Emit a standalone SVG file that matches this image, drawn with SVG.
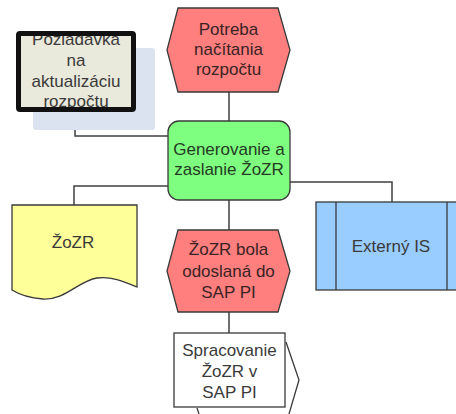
<svg xmlns="http://www.w3.org/2000/svg" width="456" height="414" viewBox="0 0 456 414">
<defs>
<style>
.t{font-family:"Liberation Sans",Arial,sans-serif;font-size:17px;fill:#3a3a3a;text-anchor:middle}
.c{fill:none;stroke:#404040;stroke-width:1.5}
.s{stroke:#3a3a3a;stroke-width:1.3}
</style>
</defs>
<rect width="456" height="414" fill="#ffffff"/>
<g id="connectors">
<polyline class="c" points="75,110 75,136 170,136"/>
<polyline class="c" points="229,92 229,122"/>
<polyline class="c" points="168,186 74,186 74,206"/>
<polyline class="c" points="290,182 392,182 392,203"/>
<polyline class="c" points="229,199 229,231"/>
<polyline class="c" points="229,311 229,334"/>
</g>
<g id="poziadavka">
<rect x="33" y="48" width="122" height="82" rx="3" fill="#dbe3f1"/>
<rect x="18.5" y="33.5" width="115" height="76" fill="#e9e9dc"/>
<text class="t" x="76" y="45">Poziadavka</text>
<text class="t" x="76" y="65.5">na</text>
<text class="t" x="76" y="86.5">aktualizáciu</text>
<text class="t" x="76" y="107">rozpočtu</text>
<rect x="18.5" y="33.5" width="115" height="76" rx="1.5" fill="none" stroke="#111" stroke-width="5"/>
</g>
<g id="potreba">
<polygon class="s" points="178,8 278,8 290,50 278,92 178,92 167,50" fill="#ff7f7f"/>
<text class="t" x="228.5" y="35" fill="#3a2323" style="fill:#3a2323">Potreba</text>
<text class="t" x="228.5" y="55" style="fill:#3a2323">načítania</text>
<text class="t" x="228.5" y="75" style="fill:#3a2323">rozpočtu</text>
</g>
<g id="generovanie">
<rect class="s" x="168" y="121" width="122" height="79" rx="11" fill="#7fff7f"/>
<text class="t" x="229" y="155" style="fill:#233a23">Generovanie a</text>
<text class="t" x="229" y="175" style="fill:#233a23">zaslanie ŽoZR</text>
</g>
<g id="zozr-doc">
<path class="s" d="M12,205 H137 V287 C125,282 112,276 97,278 C78,281 66,300 43,299 C30,298 20,295 12,290 Z" fill="#ffff99"/>
<text class="t" x="73" y="248">ŽoZR</text>
</g>
<g id="externy-is">
<rect class="s" x="316" y="202" width="150" height="88" fill="#99ccff"/>
<line class="s" x1="336" y1="202" x2="336" y2="290"/>
<line class="s" x1="447" y1="202" x2="447" y2="290"/>
<text class="t" x="391" y="252">Externý IS</text>
</g>
<g id="zozr-bola">
<polygon class="s" points="178,230 278,230 290,271 278,312 178,312 167,271" fill="#ff7f7f"/>
<text class="t" x="228.5" y="255" style="fill:#3a2323">ŽoZR bola</text>
<text class="t" x="228.5" y="277" style="fill:#3a2323">odoslaná do</text>
<text class="t" x="228.5" y="298" style="fill:#3a2323">SAP PI</text>
</g>
<g id="spracovanie">
<polyline class="s" points="286,342 299,380 289,414" fill="none"/>
<rect class="s" x="174" y="333" width="111" height="74" fill="#ffffff"/>
<line class="s" x1="197" y1="408" x2="199" y2="414"/>
<text class="t" x="229.5" y="356">Spracovanie</text>
<text class="t" x="229.5" y="377">ŽoZR v</text>
<text class="t" x="229.5" y="398">SAP PI</text>
</g>
</svg>
